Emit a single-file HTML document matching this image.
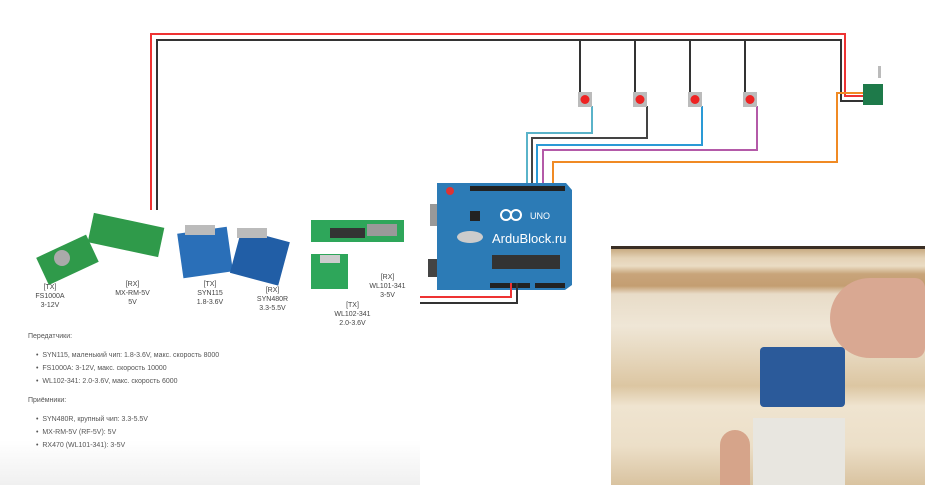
<!DOCTYPE html>
<html><head><meta charset="utf-8"><style>
html,body{margin:0;padding:0;background:#fff;width:925px;height:485px;overflow:hidden;font-family:"Liberation Sans",sans-serif}
.t{position:absolute;font-size:7px;color:#444;line-height:9px;text-align:center}
.l{position:absolute;font-size:7px;color:#555}
</style></head><body>
<svg width="925" height="485" style="position:absolute;left:0;top:0">
<defs>
<linearGradient id="fade" x1="0" y1="0" x2="0" y2="1"><stop offset="0" stop-color="#fff"/><stop offset="1" stop-color="#f0f0f0"/></linearGradient>
</defs>
<rect x="0" y="440" width="420" height="45" fill="url(#fade)"/>
<!-- power wires -->
<polyline points="151,210 151,34 845,34 845,96 865,96" fill="none" stroke="#e33" stroke-width="2"/>
<polyline points="157,210 157,40 841,40 841,101 865,101" fill="none" stroke="#333" stroke-width="2"/>
<g stroke="#333" stroke-width="2">
<line x1="580" y1="40" x2="580" y2="94"/><line x1="635" y1="40" x2="635" y2="94"/>
<line x1="690" y1="40" x2="690" y2="94"/><line x1="745" y1="40" x2="745" y2="94"/>
</g>
<!-- signal wires -->
<polyline points="592,106 592,133 527,133 527,186" fill="none" stroke="#5ab3c9" stroke-width="2"/>
<polyline points="647,106 647,138 532,138 532,186" fill="none" stroke="#444" stroke-width="2"/>
<polyline points="702,106 702,145 537,145 537,186" fill="none" stroke="#2a9ad6" stroke-width="2"/>
<polyline points="757,106 757,150 543,150 543,186" fill="none" stroke="#b45aa8" stroke-width="2"/>
<polyline points="865,93 837,93 837,162 553,162 553,186" fill="none" stroke="#f08a24" stroke-width="2"/>
<!-- buttons -->
<g>
<rect x="578" y="92" width="14" height="15" fill="#bbb"/><circle cx="585" cy="99.5" r="4.5" fill="#e22"/>
<rect x="633" y="92" width="14" height="15" fill="#bbb"/><circle cx="640" cy="99.5" r="4.5" fill="#e22"/>
<rect x="688" y="92" width="14" height="15" fill="#bbb"/><circle cx="695" cy="99.5" r="4.5" fill="#e22"/>
<rect x="743" y="92" width="14" height="15" fill="#bbb"/><circle cx="750" cy="99.5" r="4.5" fill="#e22"/>
</g>
<!-- tx module -->
<rect x="863" y="84" width="20" height="21" fill="#1e7a4a"/>
<rect x="878" y="66" width="3" height="12" fill="#bbb"/>
<!-- arduino -->
<rect x="430" y="204" width="18" height="22" fill="#999"/>
<rect x="428" y="259" width="14" height="18" fill="#444"/>
<path d="M437,183 L566,183 L572,190 L572,285 L565,290 L437,290 Z" fill="#2c7bb6"/>
<rect x="470" y="186" width="95" height="5" fill="#222"/>
<rect x="490" y="283" width="40" height="5" fill="#222"/>
<rect x="535" y="283" width="30" height="5" fill="#222"/>
<rect x="492" y="255" width="68" height="14" fill="#333"/>
<circle cx="450" cy="191" r="4" fill="#d33"/>
<ellipse cx="470" cy="237" rx="13" ry="6" fill="#ccc"/>
<rect x="470" y="211" width="10" height="10" fill="#222"/>
<text x="492" y="243" font-family="Liberation Sans" font-size="13" fill="#fff">ArduBlock.ru</text>
<text x="530" y="219" font-family="Liberation Sans" font-size="9" fill="#fff">UNO</text>
<circle cx="506" cy="215" r="5" fill="none" stroke="#fff" stroke-width="2"/><circle cx="516" cy="215" r="5" fill="none" stroke="#fff" stroke-width="2"/>
<polyline points="511,283 511,297 420,297" fill="none" stroke="#e33" stroke-width="2"/>
<polyline points="517,283 517,303 420,303" fill="none" stroke="#333" stroke-width="2"/>
<!-- module photos -->
<g>
<rect x="40" y="245" width="55" height="30" fill="#2f9a4a" transform="rotate(-25 67 260)"/>
<circle cx="62" cy="258" r="8" fill="#aaa"/>
<rect x="90" y="220" width="72" height="30" fill="#2f9a4a" transform="rotate(12 126 235)"/>
<rect x="180" y="230" width="50" height="45" fill="#2a6fb8" transform="rotate(-8 205 252)"/>
<rect x="185" y="225" width="30" height="10" fill="#bbb"/>
<rect x="235" y="235" width="50" height="45" fill="#215ea6" transform="rotate(15 260 257)"/>
<rect x="237" y="228" width="30" height="10" fill="#bbb"/>
<rect x="311" y="220" width="93" height="22" fill="#2ea65a"/>
<rect x="330" y="228" width="35" height="10" fill="#333"/>
<rect x="367" y="224" width="30" height="12" fill="#999"/>
<rect x="311" y="254" width="37" height="35" fill="#2ea65a"/>
<rect x="320" y="255" width="20" height="8" fill="#ccc"/>
</g>
</svg>
<div class="t" style="left:30px;top:283px;width:40px">[TX]<br>FS1000A<br>3-12V</div>
<div class="t" style="left:110px;top:280px;width:45px">[RX]<br>MX-RM-5V<br>5V</div>
<div class="t" style="left:195px;top:280px;width:30px">[TX]<br>SYN115<br>1.8-3.6V</div>
<div class="t" style="left:250px;top:286px;width:45px">[RX]<br>SYN480R<br>3.3-5.5V</div>
<div class="t" style="left:330px;top:301px;width:45px">[TX]<br>WL102-341<br>2.0-3.6V</div>
<div class="t" style="left:365px;top:273px;width:45px">[RX]<br>WL101-341<br>3-5V</div>
<div class="l" style="left:28px;top:333px">Передатчики:</div>
<div class="l" style="left:36px;top:352px">•&nbsp; SYN115, маленький чип: 1.8-3.6V, макс. скорость 8000</div>
<div class="l" style="left:36px;top:365px">•&nbsp; FS1000A: 3-12V, макс. скорость 10000</div>
<div class="l" style="left:36px;top:378px">•&nbsp; WL102-341: 2.0-3.6V, макс. скорость 6000</div>
<div class="l" style="left:28px;top:397px">Приёмники:</div>
<div class="l" style="left:36px;top:416px">•&nbsp; SYN480R, крупный чип: 3.3-5.5V</div>
<div class="l" style="left:36px;top:429px">•&nbsp; MX-RM-5V (RF-5V): 5V</div>
<div class="l" style="left:36px;top:442px">•&nbsp; RX470 (WL101-341): 3-5V</div>
<!-- photo -->
<div style="position:absolute;left:611px;top:246px;width:314px;height:239px;background:linear-gradient(180deg,#3a2e24 0,#3a2e24 3px,#c9ab82 3px,#e4d2b6 12px,#eadcc4 20px,#c8a47a 28px,#c49e72 40px,#e8dcc8 48px,#efe6d6 80px,#e6d7bd 110px,#dcc6a2 140px,#efe4d0 160px,#ecdfc8 200px,#d9c3a0 239px)"></div>
<div style="position:absolute;left:760px;top:347px;width:85px;height:60px;background:#2b5a9a;border-radius:4px"></div>
<div style="position:absolute;left:753px;top:418px;width:92px;height:67px;background:#e8e6e0"></div>
<div style="position:absolute;left:830px;top:278px;width:95px;height:80px;background:#d9a892;border-radius:40px 10px 10px 40px"></div>
<div style="position:absolute;left:720px;top:430px;width:30px;height:55px;background:#d6a48a;border-radius:15px 15px 0 0"></div>
</body></html>
